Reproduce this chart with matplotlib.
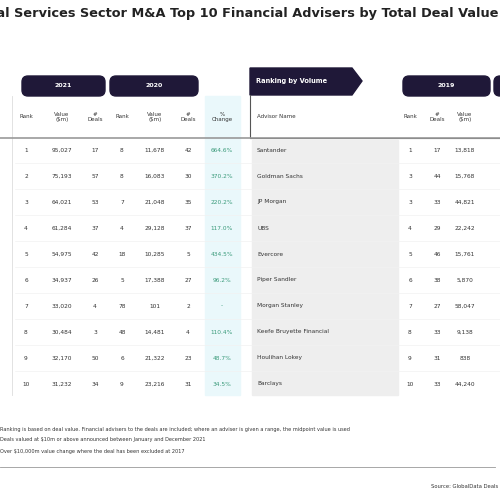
import matplotlib.pyplot as plt
from matplotlib.patches import FancyBboxPatch, Rectangle, Polygon

# data
rank21 = [1, 2, 3, 4, 5, 6, 7, 8, 9, 10]
value21 = ["95,027", "75,193", "64,021", "61,284", "54,975", "34,937", "33,020", "30,484", "32,170", "31,232"]
deals21 = [17, 57, 53, 37, 42, 26, 4, 3, 50, 34]
rank20 = [8, 8, 7, 4, 18, 5, 78, 48, 6, 9]
value20 = ["11,678", "16,083", "21,048", "29,128", "10,285", "17,388", "101", "14,481", "21,322", "23,216"]
deals20 = [42, 30, 35, 37, 5, 27, 2, 4, 23, 31]
pct = ["664.6%", "370.2%", "220.2%", "117.0%", "434.5%", "96.2%", "-", "110.4%", "48.7%", "34.5%"]
advisers = ["Santander", "Goldman Sachs", "JP Morgan", "UBS", "Evercore", "Piper Sandler",
            "Morgan Stanley", "Keefe Bruyette Financial", "Houlihan Lokey", "Barclays"]
rank19 = [1, 3, 3, 4, 5, 6, 7, 8, 9, 10]
deals19 = [17, 44, 33, 29, 46, 38, 27, 33, 31, 33]
value19 = ["13,818", "15,768", "44,821", "22,242", "15,761", "5,870", "58,047", "9,138", "838", "44,240"]

navy = "#1f1838"
fig = plt.figure(figsize=(5, 5), dpi=100)
W, H = 500, 500
def X(px): return px / W
def Y(py): return 1 - py / H

def t(x, y, s, **kw):
    kw.setdefault("fontsize", 4.2)
    kw.setdefault("ha", "center")
    kw.setdefault("va", "center")
    kw.setdefault("color", "#333333")
    fig.text(X(x), Y(y), s, **kw)

def rect(x0, y0, x1, y1, **kw):
    fig.patches.append(Rectangle((X(x0), Y(y1)), X(x1 - x0), (y1 - y0) / H,
                                 transform=fig.transFigure, **kw))

t(498, 13, "Financial Services Sector M&A Top 10 Financial Advisers by Total Deal Value",
  fontsize=9.3, fontweight="bold", ha="right", color="#222222")

# pill headers
for x0, x1, lab in [(22, 105, "2021"), (110, 198, "2020"), (403, 490, "2019"), (494, 540, "")]:
    fig.patches.append(FancyBboxPatch((X(x0), Y(96)), X(x1 - x0), 20 / H,
                                      boxstyle="round,pad=0,rounding_size=0.012",
                                      transform=fig.transFigure, color=navy))
    t((x0 + x1) / 2, 86, lab, color="white", fontsize=4.5, fontweight="bold")

# ranking by volume tag
fig.patches.append(Polygon([(X(250), Y(68)), (X(352), Y(68)), (X(362), Y(81)),
                            (X(352), Y(95)), (X(250), Y(95))], closed=True,
                           transform=fig.transFigure, color=navy))
t(256, 81, "Ranking by Volume", color="white", fontsize=4.8, fontweight="bold", ha="left")

# backgrounds
rect(205, 96, 240, 395, color="#eaf8fb")
rect(252, 140, 398, 395, color="#eeeeee")
fig.lines.append(plt.Line2D([X(12), X(12)], [Y(96), Y(395)], transform=fig.transFigure, color="#dddddd", lw=0.6))
fig.lines.append(plt.Line2D([X(250), X(250), X(500)], [Y(95), Y(138), Y(138)], transform=fig.transFigure, color="#555555", lw=0.8))

# column headers
hy = 117
cols = [(26, "Rank"), (62, "Value\n($m)"), (95, "#\nDeals"), (122, "Rank"), (155, "Value\n($m)"),
        (188, "#\nDeals"), (222, "%\nChange"), (410, "Rank"), (437, "#\nDeals"), (465, "Value\n($m)")]
for x, s in cols:
    t(x, hy, s, fontsize=4, color="#333333")
t(257, hy, "Advisor Name", ha="left", fontsize=4)
fig.lines.append(plt.Line2D([X(0), X(500)], [Y(138), Y(138)], transform=fig.transFigure, color="#999999", lw=1.2))

for i in range(len(advisers)):
    y = 150 + 26 * i
    t(26, y, str(rank21[i]))
    t(62, y, value21[i])
    t(95, y, str(deals21[i]))
    t(122, y, str(rank20[i]))
    t(155, y, value20[i])
    t(188, y, str(deals20[i]))
    t(222, y, pct[i], color="#3a9a7a")
    t(257, y, advisers[i], ha="left")
    t(410, y, str(rank19[i]))
    t(437, y, str(deals19[i]))
    t(465, y, value19[i])
    if i < 9:
        fig.lines.append(plt.Line2D([X(15), X(500)], [Y(y + 13), Y(y + 13)],
                                    transform=fig.transFigure, color="#f2f2f2", lw=0.5))

# footnotes
t(0, 430, "Ranking is based on deal value. Financial advisers to the deals are included; where an adviser is given a range, the midpoint value is used",
  ha="left", fontsize=3.6)
t(0, 440, "Deals valued at $10m or above announced between January and December 2021", ha="left", fontsize=3.6)
t(0, 451, "Over $10,000m value change where the deal has been excluded at 2017", ha="left", fontsize=3.6)
fig.lines.append(plt.Line2D([X(0), X(495)], [Y(467), Y(467)], transform=fig.transFigure, color="#999999", lw=0.6))
t(498, 486, "Source: GlobalData Deals", ha="right", fontsize=3.8)

fig.savefig("out.png", dpi=100, facecolor="white")
